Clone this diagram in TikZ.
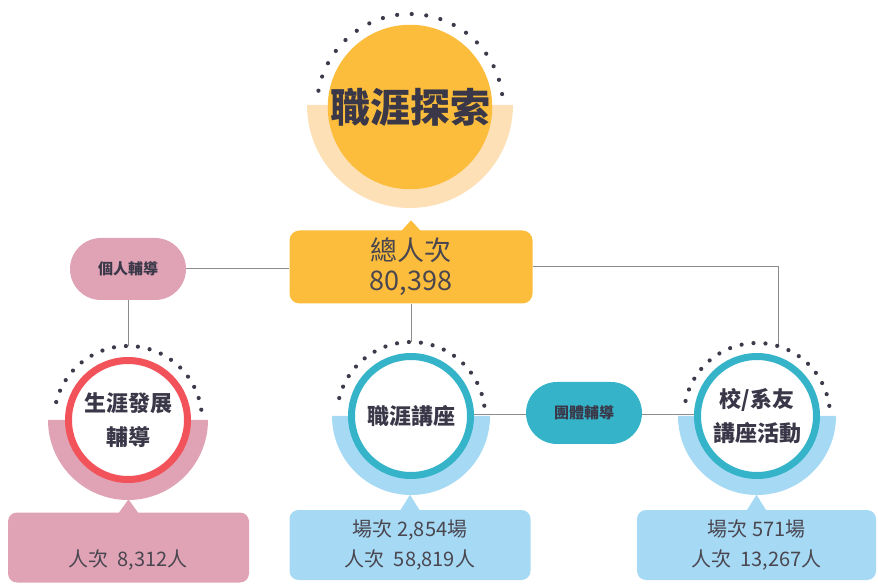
\documentclass[tikz,border=0pt]{standalone}
\usepackage{fontspec}
\setmainfont{Noto Sans CJK TC}
\usetikzlibrary{shapes.misc,backgrounds}

\definecolor{sun}{HTML}{FBBD3B}
\definecolor{peach}{HTML}{FDE0B6}
\definecolor{rose}{HTML}{DFA3B5}
\definecolor{coral}{HTML}{F2535B}
\definecolor{teal}{HTML}{35B3C9}
\definecolor{sky}{HTML}{A6DAF4}
\definecolor{dotc}{HTML}{3B3B4B}
\definecolor{ink}{HTML}{3A3848}
\definecolor{boxink}{HTML}{4A4650}
\definecolor{linec}{HTML}{8C8C8C}

\tikzset{
  ring/.style={circle, draw=#1, line width=7pt, fill=white, minimum size=119pt,
    inner sep=0pt, align=center, text=ink, font=\fontsize{22}{34}\selectfont\bfseries},
  pill/.style={rounded rectangle, fill=#1, minimum width=116pt, minimum height=62pt,
    inner sep=0pt, text=ink, font=\fontsize{15}{18}\selectfont\bfseries},
  infobox/.style={rectangle, rounded corners=9pt, fill=#1, minimum width=241pt,
    minimum height=70pt, inner sep=0pt, align=center, text=boxink,
    font=\fontsize{20}{30}\selectfont},
  dotarc/.style={draw=dotc, line width=4.2pt, line cap=round, dash pattern=on 0pt off #1},
  link/.style={draw=linec, line width=1pt},
}

\begin{document}
\begin{tikzpicture}[x=1pt,y=1pt]
\useasboundingbox (0,0) rectangle (878,584);
\clip (0,0) rectangle (878,584);

% top circle
\node[circle, fill=sun, minimum size=164pt, inner sep=0pt, text=ink,
  font=\fontsize{40}{44}\selectfont\bfseries] (explore) at (410,477) {職涯探索};
\draw[dotarc=14.6pt] (explore.center) ++(8:93) arc (8:172:93);

% total
\node[rectangle, rounded corners=10pt, fill=sun, minimum width=243pt, minimum height=73pt,
  inner sep=0pt, align=center, text=boxink, font=\fontsize{27}{30}\selectfont] (total) at (411,317) {總人次\\80,398};
\fill[sun] ([xshift=-10pt,yshift=-1pt]total.north) -- ([yshift=10pt]total.north) -- ([xshift=10pt,yshift=-1pt]total.north) -- cycle;

% side pills
\node[pill=rose] (single) at (128,315) {個人輔導};
\node[pill=teal] (group) at (584,171) {團體輔導};

% three rings
\node[ring=coral] (career) at (128,164) {生涯發展\\輔導};
\node[ring=teal] (lecture) at (411,168) {職涯講座};
\node[ring=teal] (alumni) at (757,168) {校/系友\\講座活動};
\draw[dotarc=12pt] (career.center) ++(8:74) arc (8:172:74);
\draw[dotarc=12pt] (lecture.center) ++(8:74) arc (8:172:74);
\draw[dotarc=12pt] (alumni.center) ++(8:73) arc (8:172:73);

% line ends on the dots
\coordinate (ctop) at (128,238);
\coordinate (mtop) at (411,242);
\coordinate (rtop) at (778,238);

% boxes at the bottom
\node[infobox=rose] (careerbox) at (128.5,36.5) {};
\node[text=boxink, font=\fontsize{20}{30}\selectfont] (careertxt) at (128,24) {人次\ \ 8,312人};
\node[infobox=sky] (lecturebox) at (410,39) {場次 2,854場\\人次\ \ 58,819人};
\node[infobox=sky, minimum width=239pt] (alumnibox) at (756.5,39) {場次 571場\\人次\ \ 13,267人};
\fill[rose] ([xshift=-10pt,yshift=-1pt]careerbox.north) -- ([yshift=13pt]careerbox.north) -- ([xshift=10pt,yshift=-1pt]careerbox.north) -- cycle;
\fill[sky] ([xshift=-10pt,yshift=-1pt]lecturebox.north) -- ([yshift=15pt]lecturebox.north) -- ([xshift=10pt,yshift=-1pt]lecturebox.north) -- cycle;
\fill[sky] ([xshift=-10pt,yshift=-1pt]alumnibox.north) -- ([yshift=15pt]alumnibox.north) -- ([xshift=10pt,yshift=-1pt]alumnibox.north) -- cycle;

\begin{pgfonlayer}{background}
% half discs
\fill[peach] ([xshift=103pt,yshift=2pt]explore.center) arc (0:-180:103) -- cycle;
\fill[rose] ([xshift=80pt]career.center) arc (0:-180:80) -- cycle;
\fill[sky] ([xshift=79pt]lecture.center) arc (0:-180:79) -- cycle;
\fill[sky] ([xshift=79pt]alumni.center) arc (0:-180:79) -- cycle;
% connectors
\draw[link] (total.west |- single) -- (single.east);
\draw[link] (single.south) -- (ctop);
\draw[link] (total.south) -- (mtop);
\draw[link] (total.east |- 0,317) -- (rtop |- 0,317) -- (rtop);
\draw[link] ([yshift=1pt]lecture.east) -- ([yshift=1pt]lecture.east -| group.west);
\draw[link] ([yshift=1pt]group.east |- alumni.west) -- ([yshift=1pt]alumni.west);
\end{pgfonlayer}
\end{tikzpicture}
\end{document}
